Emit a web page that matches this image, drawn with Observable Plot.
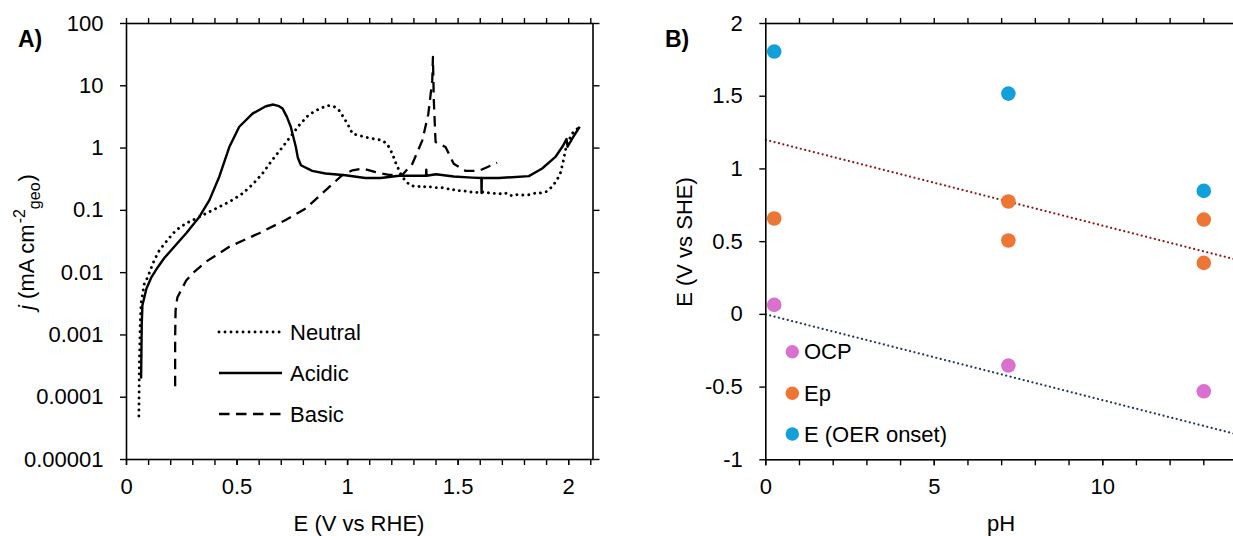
<!DOCTYPE html>
<html>
<head>
<meta charset="utf-8">
<script src="https://cdn.jsdelivr.net/npm/d3@7"></script>
<script src="https://cdn.jsdelivr.net/npm/@observablehq/plot@0.6"></script>
<style>
  html, body { margin: 0; padding: 0; background: white; overflow: hidden; width: 1233px; height: 536px; }
  #wrap { position: relative; width: 1233px; height: 536px; overflow: hidden; }
  #panelA { position: absolute; left: 0; top: 0; }
  #panelB { position: absolute; left: 620px; top: 0; }
</style>
</head>
<body>
<div id="wrap"><div id="panelA"></div><div id="panelB"></div></div>
<script>
// ---------------- Panel A data: current density vs potential ----------------
const neutralE = [0.056,0.058,0.062,0.066,0.08,0.096,0.126,0.149,0.19,0.224,0.27,0.315,0.37,0.42,0.47,0.525,0.57,0.615,0.66,0.706,0.74,0.78,0.82,0.856,0.909,0.94,0.962,0.985,1.007,1.022,1.05,1.097,1.157,1.18,1.202,1.22,1.24,1.26,1.285,1.30,1.32,1.34,1.353,1.37,1.39,1.42,1.45,1.47,1.488,1.52,1.55,1.57,1.594,1.62,1.65,1.68,1.7,1.72,1.744,1.77,1.8,1.83,1.85,1.865,1.88,1.9,1.925,1.945,1.962,1.975,1.985,2.0,2.015,2.048];
const neutralJ = [0.00005,0.0003,0.0015,0.0032,0.0065,0.0085,0.016,0.023,0.035,0.048,0.062,0.074,0.093,0.114,0.14,0.186,0.26,0.39,0.65,1.04,1.5,2.3,3.3,4.0,4.85,4.6,4.0,3.0,2.2,1.7,1.6,1.45,1.33,1.15,0.82,0.55,0.39,0.3,0.25,0.245,0.24,0.25,0.235,0.24,0.23,0.235,0.22,0.225,0.205,0.21,0.195,0.2,0.19,0.2,0.185,0.19,0.18,0.19,0.17,0.18,0.175,0.18,0.19,0.186,0.195,0.2,0.24,0.3,0.39,0.6,0.92,1.3,1.7,2.2];

const acidicE = [0.066,0.069,0.072,0.09,0.113,0.14,0.17,0.22,0.27,0.33,0.375,0.42,0.465,0.51,0.57,0.63,0.664,0.69,0.706,0.725,0.743,0.766,0.775,0.789,0.84,0.9,0.99,1.08,1.15,1.233,1.3,1.355,1.356,1.357,1.4,1.48,1.563,1.605,1.606,1.607,1.684,1.82,1.88,1.94,1.975,1.99,1.995,2.02,2.05];
const acidicJ = [0.0002,0.0015,0.003,0.0055,0.0085,0.012,0.017,0.027,0.043,0.079,0.146,0.35,1.04,2.2,3.57,4.7,5.0,4.7,4.3,3.2,2.2,1.04,0.7,0.53,0.43,0.39,0.366,0.33,0.33,0.36,0.36,0.36,0.45,0.36,0.38,0.35,0.336,0.33,0.19,0.33,0.33,0.355,0.47,0.72,1.1,1.4,1.05,1.5,2.2];

const basicE = [0.22,0.22,0.222,0.23,0.247,0.27,0.30,0.36,0.465,0.60,0.72,0.811,0.90,0.977,1.022,1.067,1.127,1.187,1.247,1.293,1.338,1.365,1.383,1.386,1.39,1.398,1.443,1.48,1.534,1.594,1.676];
const basicJ = [0.00015,0.0009,0.0025,0.004,0.0052,0.0075,0.0098,0.015,0.026,0.043,0.07,0.107,0.21,0.37,0.44,0.47,0.41,0.37,0.37,0.56,1.33,3.5,12.2,29,5.8,1.25,1.04,0.56,0.43,0.43,0.58];

const seriesA = ["Neutral", "Acidic", "Basic"];

const xTicksA = [0, 0.5, 1, 1.5, 2];
const xTickLabelsA = ["0", "0.5", "1", "1.5", "2"];
const xMinorTicksA = [0,0.1,0.2,0.3,0.4,0.5,0.6,0.7,0.8,0.9,1,1.1,1.2,1.3,1.4,1.5,1.6,1.7,1.8,1.9,2,2.1];
const yTicksA = [100, 10, 1, 0.1, 0.01, 0.001, 0.0001, 0.00001];
const yTickLabelsA = ["100", "10", "1", "0.1", "0.01", "0.001", "0.0001", "0.00001"];

// ---------------- Panel B data: potentials vs pH ----------------
const pHValues   = [0.25, 7.2, 13];
const ocpE       = [0.065, -0.352, -0.529];
const epPH       = [0.25, 7.2, 7.2, 13, 13];
const epE        = [0.659, 0.776, 0.508, 0.652, 0.354];
const oerE       = [1.807, 1.518, 0.849];
const trendPH    = [0, 14];
const trendRedE  = [1.2, 0.374];
const trendBlueE = [0, -0.826];

const seriesB = ["OCP", "Ep", "E (OER onset)"];
const colorsB = ["#DA70D0", "#ED7635", "#12A0DA"];

const xTicksB = [0, 5, 10];
const xTickLabelsB = ["0", "5", "10"];
const xMinorTicksB = [0,1,2,3,4,5,6,7,8,9,10,11,12,13,14];
const yTicksB = [2, 1.5, 1, 0.5, 0, -0.5, -1];
const yTickLabelsB = ["2", "1.5", "1", "0.5", "0", "-0.5", "-1"];

// ---------------- shared style ----------------
const FONT = "'Liberation Sans', Arial, Helvetica, sans-serif";
const FS = 22;
const baseStyle = {fontFamily: FONT, fontSize: FS + "px", color: "black", background: "white", maxWidth: "none", overflow: "visible"};
const lab = (vals, labels) => d => labels[vals.indexOf(d)];
const blank = () => "";
const ax = {tickSize: 6, strokeWidth: 1.4, label: null, fontSize: FS};

function addText(svg, x, y, str, opts = {}) {
  const t = svg.append("text").attr("x", x).attr("y", y)
    .attr("font-size", opts.size || FS).attr("font-family", FONT)
    .attr("text-anchor", opts.anchor || "start").attr("fill", "black");
  if (opts.weight) t.attr("font-weight", opts.weight);
  if (opts.dy) t.attr("dy", opts.dy);
  if (opts.transform) t.attr("transform", opts.transform);
  if (str != null) t.text(str);
  return t;
}

// ---------------- Panel A ----------------
const rowsA = [
  ...neutralE.map((e, i) => ({E: e, j: neutralJ[i], s: seriesA[0]})),
  ...acidicE.map((e, i) => ({E: e, j: acidicJ[i], s: seriesA[1]})),
  ...basicE.map((e, i) => ({E: e, j: basicJ[i], s: seriesA[2]}))
];
const styleA = {
  Neutral: {strokeWidth: 2.9, strokeDasharray: "0.01 6", strokeLinecap: "round"},
  Acidic: {strokeWidth: 2.4, strokeDasharray: null, strokeLinecap: "butt"},
  Basic: {strokeWidth: 2.3, strokeDasharray: "10.5 6.5", strokeLinecap: "butt"}
};

const W_A = 620;
const plotA = Plot.plot({
  width: W_A, height: 536,
  marginLeft: 126, marginTop: 23, marginBottom: 77, marginRight: W_A - 592.5,
  style: baseStyle,
  x: {domain: [0, 2.11]},
  y: {type: "log", domain: [0.00001, 100]},
  marks: [
    ...seriesA.map(s => Plot.line(rowsA.filter(d => d.s === s), {
      x: "E", y: "j", stroke: "black", strokeLinejoin: "round", ...styleA[s]
    })),
    Plot.frame({stroke: "black", strokeWidth: 1.6}),
    Plot.axisX({...ax, anchor: "bottom", ticks: xMinorTicksA, tickFormat: blank}),
    Plot.axisX({...ax, anchor: "bottom", ticks: xTicksA, tickFormat: lab(xTicksA, xTickLabelsA), tickPadding: 13}),
    Plot.axisX({...ax, anchor: "top", ticks: xMinorTicksA, tickFormat: blank}),
    Plot.axisY({...ax, anchor: "left", ticks: yTicksA, tickFormat: lab(yTicksA, yTickLabelsA), tickPadding: 17}),
    Plot.axisY({...ax, anchor: "right", ticks: yTicksA, tickFormat: blank})
  ]
});
document.getElementById("panelA").appendChild(plotA);

{
  const svg = d3.select(plotA);
  addText(svg, 18, 47, "A)", {weight: "bold", size: 23});
  addText(svg, 359, 531, "E (V vs RHE)", {anchor: "middle"});
  const yl = addText(svg, 0, 0, null, {anchor: "middle", transform: "translate(34,242) rotate(-90)"});
  yl.append("tspan").attr("font-style", "italic").text("j");
  yl.append("tspan").text(" (mA cm");
  yl.append("tspan").attr("font-size", 16).attr("dx", 1).attr("dy", -9).text("-2");
  yl.append("tspan").attr("font-size", 16).attr("dy", 15).text("geo");
  yl.append("tspan").attr("dx", 1).attr("dy", -6).text(")");
  // legend
  const legY = [332, 373, 414];
  seriesA.forEach((s, i) => {
    const st = styleA[s];
    const ln = svg.append("line").attr("x1", 219).attr("x2", 282).attr("y1", legY[i]).attr("y2", legY[i])
      .attr("stroke", "black").attr("stroke-width", st.strokeWidth).attr("stroke-linecap", st.strokeLinecap);
    if (st.strokeDasharray) ln.attr("stroke-dasharray", st.strokeDasharray);
    addText(svg, 290, legY[i], s, {dy: "0.35em"});
  });
}

// ---------------- Panel B ----------------
const dotsB = [
  ...pHValues.map((p, i) => ({pH: p, E: ocpE[i], s: seriesB[0]})),
  ...epPH.map((p, i) => ({pH: p, E: epE[i], s: seriesB[1]})),
  ...pHValues.map((p, i) => ({pH: p, E: oerE[i], s: seriesB[2]}))
];
const trendRed = trendPH.map((p, i) => ({pH: p, E: trendRedE[i]}));
const trendBlue = trendPH.map((p, i) => ({pH: p, E: trendBlueE[i]}));

const W_B = 640;
const plotB = Plot.plot({
  width: W_B, height: 536,
  marginLeft: 145.3, marginTop: 23, marginBottom: 76.7, marginRight: W_B - 617,
  style: baseStyle,
  x: {domain: [0, 14]},
  y: {domain: [-1, 2]},
  color: {domain: seriesB, range: colorsB},
  marks: [
    Plot.line(trendRed, {x: "pH", y: "E", stroke: "#8C1C1C", strokeWidth: 2.2, strokeDasharray: "0.01 4.5", strokeLinecap: "round"}),
    Plot.line(trendBlue, {x: "pH", y: "E", stroke: "#24395A", strokeWidth: 2.2, strokeDasharray: "0.01 4.5", strokeLinecap: "round"}),
    Plot.dot(dotsB, {x: "pH", y: "E", fill: "s", r: 7.3, stroke: null}),
    Plot.frame({stroke: "black", strokeWidth: 1.6}),
    Plot.axisX({...ax, anchor: "bottom", ticks: xMinorTicksB, tickFormat: blank}),
    Plot.axisX({...ax, anchor: "bottom", ticks: xTicksB, tickFormat: lab(xTicksB, xTickLabelsB), tickPadding: 13}),
    Plot.axisX({...ax, anchor: "top", ticks: xMinorTicksB, tickFormat: blank}),
    Plot.axisY({...ax, anchor: "left", ticks: yTicksB, tickFormat: lab(yTicksB, yTickLabelsB), tickPadding: 17})
  ]
});
document.getElementById("panelB").appendChild(plotB);

{
  const svg = d3.select(plotB);
  addText(svg, 45, 47, "B)", {weight: "bold", size: 23});
  addText(svg, 381, 531, "pH", {anchor: "middle"});
  addText(svg, 0, 0, "E (V vs SHE)", {anchor: "middle", transform: "translate(72,242) rotate(-90)"});
  const legY = [351.7, 393.3, 434];
  seriesB.forEach((s, i) => {
    svg.append("circle").attr("cx", 172.3).attr("cy", legY[i]).attr("r", 6.7).attr("fill", colorsB[i]);
    addText(svg, 184, legY[i], s, {dy: "0.35em"});
  });
}
</script>
</body>
</html>
